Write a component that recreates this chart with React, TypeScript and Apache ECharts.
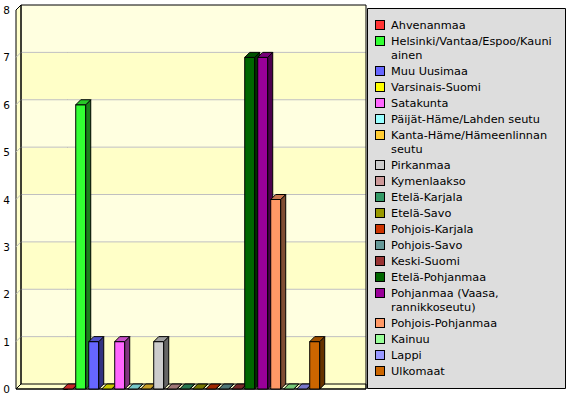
import React, { useEffect, useRef } from "react";
import * as echarts from "echarts";

// ---- data ----
const regions: string[] = [
  "Ahvenanmaa",
  "Helsinki/Vantaa/Espoo/Kauniainen",
  "Muu Uusimaa",
  "Varsinais-Suomi",
  "Satakunta",
  "Päijät-Häme/Lahden seutu",
  "Kanta-Häme/Hämeenlinnan seutu",
  "Pirkanmaa",
  "Kymenlaakso",
  "Etelä-Karjala",
  "Etelä-Savo",
  "Pohjois-Karjala",
  "Pohjois-Savo",
  "Keski-Suomi",
  "Etelä-Pohjanmaa",
  "Pohjanmaa (Vaasa, rannikkoseutu)",
  "Pohjois-Pohjanmaa",
  "Kainuu",
  "Lappi",
  "Ulkomaat",
];

const legendLines: string[][] = [
  ["Ahvenanmaa"],
  ["Helsinki/Vantaa/Espoo/Kauni", "ainen"],
  ["Muu Uusimaa"],
  ["Varsinais-Suomi"],
  ["Satakunta"],
  ["Päijät-Häme/Lahden seutu"],
  ["Kanta-Häme/Hämeenlinnan", "seutu"],
  ["Pirkanmaa"],
  ["Kymenlaakso"],
  ["Etelä-Karjala"],
  ["Etelä-Savo"],
  ["Pohjois-Karjala"],
  ["Pohjois-Savo"],
  ["Keski-Suomi"],
  ["Etelä-Pohjanmaa"],
  ["Pohjanmaa (Vaasa,", "rannikkoseutu)"],
  ["Pohjois-Pohjanmaa"],
  ["Kainuu"],
  ["Lappi"],
  ["Ulkomaat"],
];

const values: number[] = [0, 6, 1, 0, 1, 0, 0, 1, 0, 0, 0, 0, 0, 0, 7, 7, 4, 0, 0, 1];

const colors: string[] = [
  "#ff3333", "#33ff33", "#6666ff", "#ffff00", "#ff66ff",
  "#99ffff", "#ffcc33", "#cccccc", "#cc9999", "#339966",
  "#999900", "#cc3300", "#669999", "#993333", "#006600",
  "#990099", "#ff9966", "#99ff99", "#9999ff", "#cc6600",
];

const yTicks: number[] = [0, 1, 2, 3, 4, 5, 6, 7, 8];

// ---- styles ----
const FONT = "DejaVu Sans";
const BAR_W = 10;
const DEPTH = 5;
const BAND_A = "#ffffc8";
const BAND_B = "#ffffe0";
const WALL = "#ffffcc";

function shade(hex: string, f: number): string {
  const n = parseInt(hex.slice(1), 16);
  const r = Math.round(((n >> 16) & 255) * f);
  const g = Math.round(((n >> 8) & 255) * f);
  const b = Math.round((n & 255) * f);
  return "rgb(" + r + "," + g + "," + b + ")";
}

export default function App() {
  const ref = useRef<HTMLDivElement>(null);

  useEffect(() => {
    const chart = echarts.init(ref.current as HTMLDivElement, null, { renderer: "svg" });
    const D = DEPTH;

    const frameSeries: any = {
      type: "custom",
      name: "__frame",
      silent: true,
      z: 1,
      data: [[0, 0]],
      renderItem: (params: any, api: any) => {
        const cs = params.coordSys;
        const x0 = cs.x;
        const x1 = cs.x + cs.width;
        const yOf = (v: number) => api.coord([0, v])[1];
        const yB = yOf(yTicks[0]);
        const yT = yOf(yTicks[yTicks.length - 1]);
        const ch: any[] = [];
        for (let k = 0; k < yTicks.length - 1; k++) {
          const ya = yOf(yTicks[k + 1]) - D;
          const yb = yOf(yTicks[k]) - D;
          ch.push({
            type: "rect",
            shape: { x: x0 + D, y: ya, width: cs.width, height: yb - ya },
            style: { fill: k % 2 === 0 ? BAND_A : BAND_B },
          });
        }
        // left wall
        ch.push({
          type: "polygon",
          shape: { points: [[x0, yB], [x0, yT], [x0 + D, yT - D], [x0 + D, yB - D]] },
          style: { fill: WALL, stroke: "#000", lineWidth: 1 },
        });
        // floor
        ch.push({
          type: "polygon",
          shape: { points: [[x0, yB], [x0 + D, yB - D], [x1 + D, yB - D], [x1 + D, yB]] },
          style: { fill: WALL, stroke: "#000", lineWidth: 1 },
        });
        // gridlines
        for (let k = 1; k < yTicks.length - 1; k++) {
          const y = yOf(yTicks[k]);
          ch.push({
            type: "polyline",
            shape: { points: [[x0, y], [x0 + D, y - D], [x1 + D, y - D]] },
            style: { stroke: "#c0c0c0", lineWidth: 1, fill: "none" },
          });
        }
        // back wall outline
        ch.push({
          type: "polyline",
          shape: { points: [[x0 + D, yB - D], [x0 + D, yT - D], [x1 + D, yT - D], [x1 + D, yB]] },
          style: { stroke: "#000", lineWidth: 1, fill: "none" },
        });
        // category axis line
        ch.push({
          type: "line",
          shape: { x1: x0, y1: yB, x2: x1 + D, y2: yB },
          style: { stroke: "#000", lineWidth: 1 },
        });
        return { type: "group", children: ch };
      },
    };

    const barSeries: any[] = regions.map((name, i) => ({
      type: "custom",
      name,
      z: 10 + i,
      silent: true,
      itemStyle: { color: colors[i] },
      data: [[i, values[i]]],
      renderItem: (params: any, api: any) => {
        const xv = api.value(0);
        const v = api.value(1);
        const top = api.coord([xv, v]);
        const base = api.coord([xv, 0]);
        const l = top[0] - BAR_W / 2;
        const r = l + BAR_W;
        const yt = top[1];
        const yb = base[1];
        const c = colors[i];
        const ch: any[] = [];
        if (yb - yt > 0.5) {
          ch.push({
            type: "rect",
            shape: { x: l, y: yt, width: BAR_W, height: yb - yt },
            style: { fill: c, stroke: "#000", lineWidth: 1 },
          });
        }
        ch.push({
          type: "polygon",
          shape: { points: [[r, yt], [r + D, yt - D], [r + D, yb - D], [r, yb]] },
          style: { fill: shade(c, 0.5), stroke: "#000", lineWidth: 1 },
        });
        ch.push({
          type: "polygon",
          shape: { points: [[l, yt], [l + D, yt - D], [r + D, yt - D], [r, yt]] },
          style: { fill: shade(c, 0.78), stroke: "#000", lineWidth: 1 },
        });
        return { type: "group", children: ch };
      },
    }));

    const rich: any = {
      t: { fontFamily: FONT, fontSize: 11.3, color: "#000", lineHeight: 14, padding: [0, 0, 0, 7] },
      i: { width: 8, height: 8, lineHeight: 14 },
    };
    colors.forEach((c, i) => {
      rich["s" + i] = {
        width: 8,
        height: 8,
        lineHeight: 14,
        backgroundColor: c,
        borderColor: "#000",
        borderWidth: 1,
      };
    });

    chart.setOption({
      animation: false,
      backgroundColor: "#ffffff",
      grid: { left: 16, right: 210, top: 10, bottom: 10, containLabel: false },
      xAxis: { type: "value", min: -3.98, max: 22.56, show: false },
      yAxis: {
        type: "value",
        min: 0,
        max: 8,
        interval: 1,
        axisLine: { show: true, lineStyle: { color: "#000", width: 1 } },
        axisTick: { show: true, length: 4, lineStyle: { color: "#000" } },
        axisLabel: { fontFamily: FONT, fontSize: 10.5, color: "#000", margin: 6 },
        splitLine: { show: false },
      },
      graphic: [
        {
          type: "rect",
          z: 3,
          silent: true,
          shape: { x: 367.5, y: 8.5, width: 198, height: 380 },
          style: { fill: "#dddddd", stroke: "#000", lineWidth: 1 },
        },
      ],
      legend: {
        data: regions,
        orient: "vertical",
        left: 371,
        top: 18,
        padding: 0,
        itemGap: 2,
        itemWidth: 0,
        itemHeight: 14,
        icon: "none",
        selectedMode: false,
        z: 5,
        formatter: (name: string) => {
          const idx = regions.indexOf(name);
          const lines = legendLines[idx];
          return lines
            .map((ln, j) => (j === 0 ? "{s" + idx + "|}" : "{i|}") + "{t|" + ln + "}")
            .join("\n");
        },
        textStyle: { fontFamily: FONT, fontSize: 11.3, color: "#000", lineHeight: 14, rich },
      },
      series: [frameSeries, ...barSeries],
    });

    return () => {
      chart.dispose();
    };
  }, []);

  return (
    <div
      ref={ref}
      style={{ position: "absolute", left: 0, top: 0, width: 571, height: 399 }}
    />
  );
}
